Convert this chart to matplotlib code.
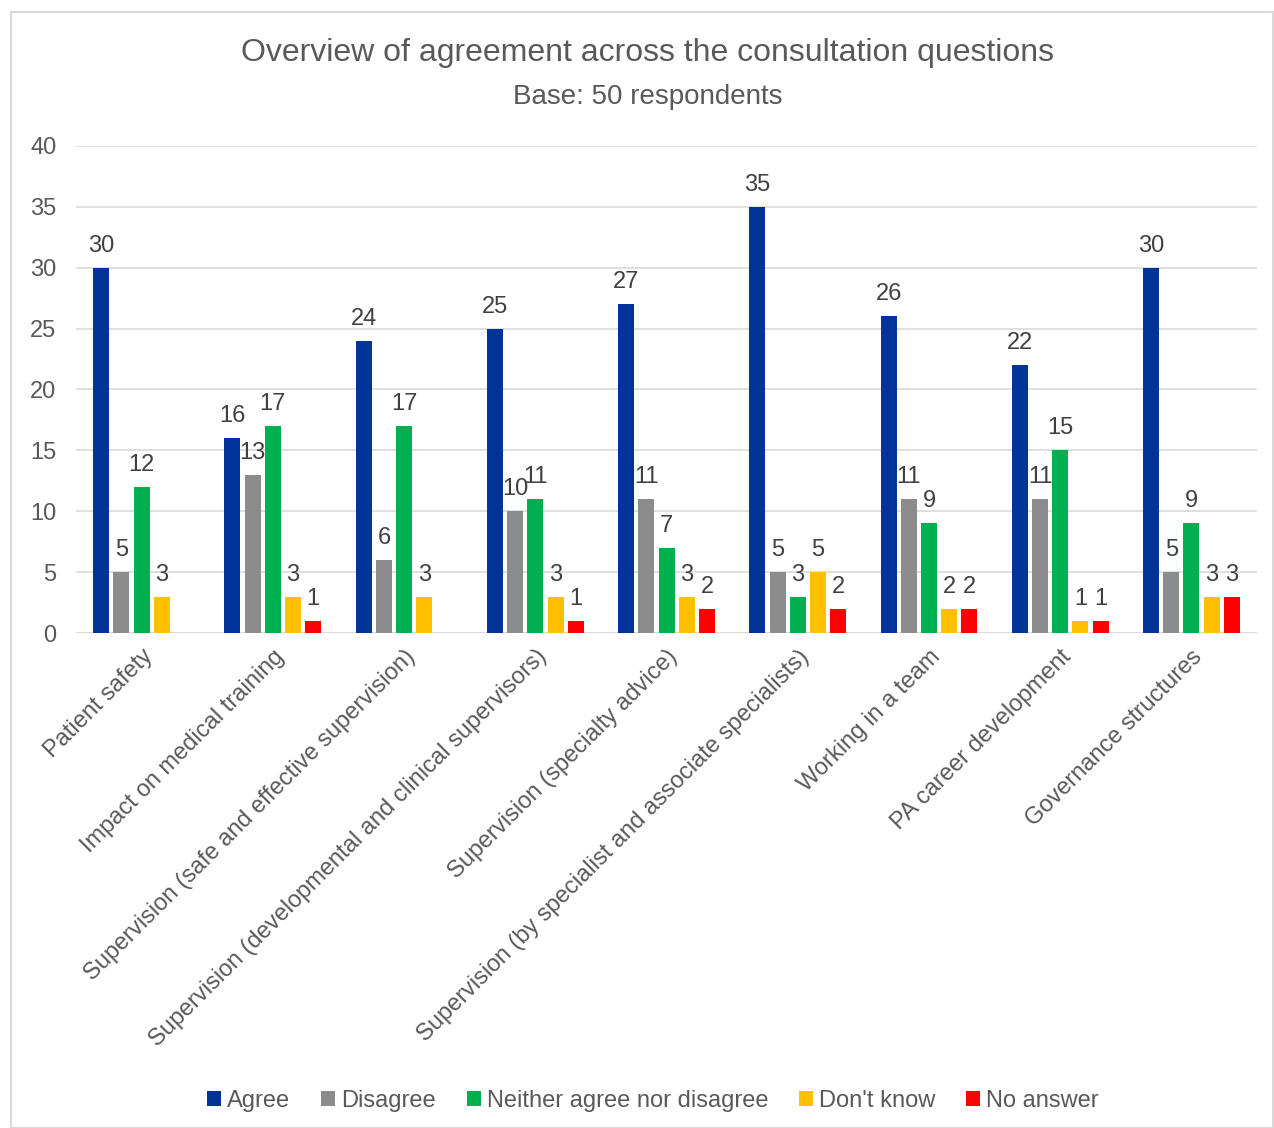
import numpy as np
import matplotlib.pyplot as plt
from matplotlib.patches import Rectangle

plt.rcParams['font.family'] = ['Liberation Sans', 'DejaVu Sans']

categories = ['Patient safety',
              'Impact on medical training',
              'Supervision (safe and effective supervision)',
              'Supervision (developmental and clinical supervisors)',
              'Supervision (specialty advice)',
              'Supervision (by specialist and associate specialists)',
              'Working in a team',
              'PA career development',
              'Governance structures']
series = ['Agree', 'Disagree', 'Neither agree nor disagree', "Don't know", 'No answer']
agree = [30, 16, 24, 25, 27, 35, 26, 22, 30]
disagree = [5, 13, 6, 10, 11, 5, 11, 11, 5]
neither = [12, 17, 17, 11, 7, 3, 9, 15, 9]
dont_know = [3, 3, 3, 3, 3, 5, 2, 1, 3]
no_answer = [0, 1, 0, 1, 2, 2, 2, 1, 3]
colors = ['#003399', '#8c8c8c', '#00b050', '#ffc000', '#ff0000']

txt = '#595959'
grid = '#d9d9d9'

fig = plt.figure(figsize=(12.74, 11.28), dpi=100)
ax = fig.add_axes([0.0597, 0.4388, 0.927, 0.4318])

# outer chart border
fig.patches.append(Rectangle((11 / 1274, 0.0), 1262 / 1274, 1 - 12 / 1128,
                             transform=fig.transFigure, fill=False,
                             edgecolor=grid, linewidth=1.5))

x = np.arange(len(categories))
step = 0.154
width = 0.122
for i, (name, vals) in enumerate(zip(series, [agree, disagree, neither, dont_know, no_answer])):
    pos = x + (i - 2) * step
    bars = ax.bar(pos, vals, width, color=colors[i], label=name, zorder=3)
    for b, v in zip(bars, vals):
        if v == 0:
            continue  # zero counts get no label
        ax.text(b.get_x() + b.get_width() / 2, v + 0.9, str(v),
                ha='center', va='bottom', fontsize=17, color='#404040')

ax.set_xlim(-0.5, len(categories) - 0.5)
ax.set_ylim(0, 40)
ax.set_yticks(range(0, 41, 5))
ax.yaxis.grid(True, color=grid, linewidth=1.2, zorder=0)
for s in ax.spines.values():
    s.set_visible(False)
ax.axhline(0, color=grid, linewidth=1.5, zorder=2)
ax.tick_params(axis='both', length=0, labelsize=17, labelcolor=txt)
ax.tick_params(axis='y', pad=14)
ax.set_xticks(x)
ax.set_xticklabels(categories, rotation=45, ha='right', rotation_mode='anchor')
ax.tick_params(axis='x', pad=9)

fig.text(0.5086, 1 - 53 / 1128, 'Overview of agreement across the consultation questions',
         ha='center', va='center', fontsize=23, color=txt)
fig.text(0.5086, 1 - 97 / 1128, 'Base: 50 respondents',
         ha='center', va='center', fontsize=20, color=txt)

fig.legend(loc='center', bbox_to_anchor=(0.5125, 1 - 1101 / 1128), ncol=5, frameon=False,
           fontsize=17, labelcolor=txt, handlelength=0.6, handleheight=0.6,
           handletextpad=0.25, columnspacing=1.3)

plt.savefig('out.png', dpi=100)
